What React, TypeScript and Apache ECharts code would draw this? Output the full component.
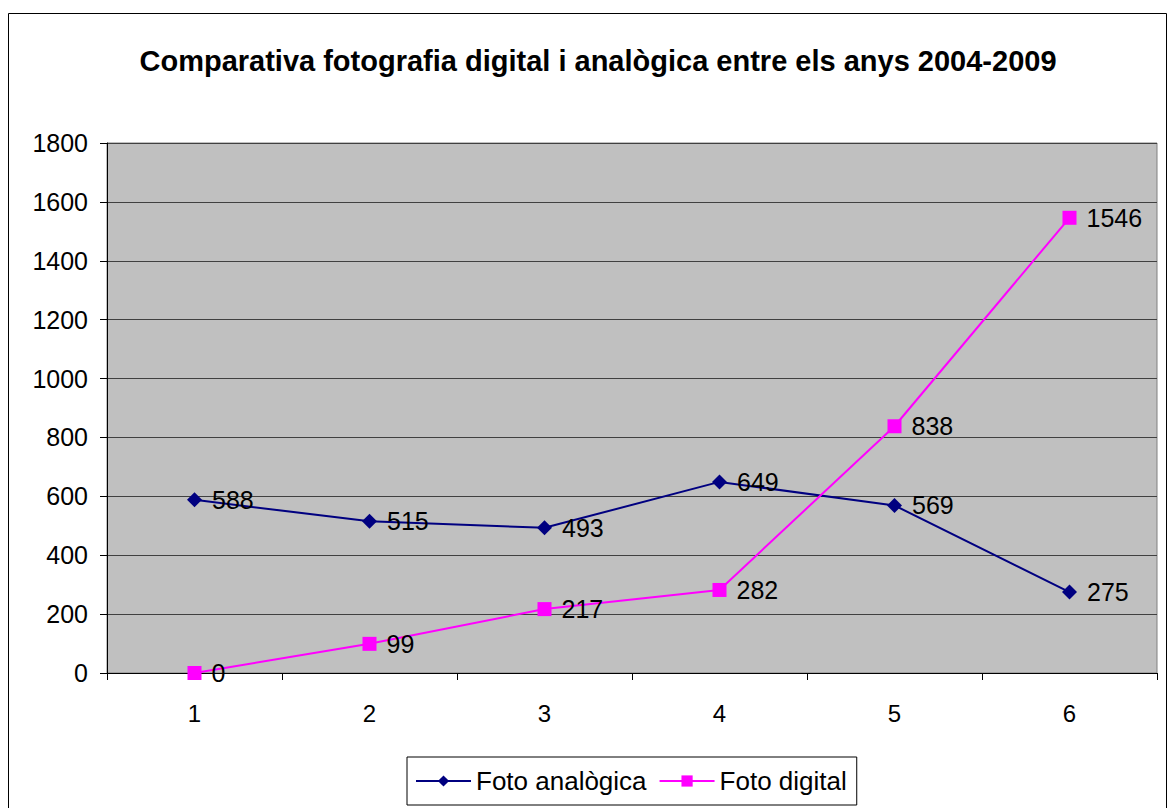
import React, { useEffect, useRef } from "react";
import * as echarts from "echarts";

const categories = ["1", "2", "3", "4", "5", "6"];
const analogica = [588, 515, 493, 649, 569, 275];
const digital = [0, 99, 217, 282, 838, 1546];
const seriesNames = ["Foto analògica", "Foto digital"];
const titleText = "Comparativa fotografia digital i analògica entre els anys 2004-2009";

export default function App() {
  const ref = useRef<HTMLDivElement>(null);
  useEffect(() => {
    if (!ref.current) return;
    const chart = echarts.init(ref.current, undefined, { renderer: "svg" });
    const font = "Arial, 'Liberation Sans', sans-serif";
    const labelStyle = {
      show: true,
      position: "right" as const,
      distance: 10,
      color: "#000",
      fontSize: 25,
      fontFamily: font,
    };
    chart.setOption({
      animation: false,
      backgroundColor: "#fff",
      title: {
        text: titleText,
        left: 593,
        textAlign: "center",
        top: 41,
        textStyle: { fontFamily: font, fontWeight: "bold", fontSize: 29, color: "#000" },
      },
      graphic: [
        {
          type: "rect",
          shape: { x: 8.5, y: 13.5, width: 1158, height: 800 },
          style: { fill: "none", stroke: "#000", lineWidth: 1 },
          silent: true,
          z: -10,
        },
      ],
      grid: {
        left: 107,
        top: 143,
        right: 11,
        bottom: 135,
        show: true,
        backgroundColor: "#c0c0c0",
        borderColor: "#808080",
        borderWidth: 1,
      },
      legend: {
        bottom: 3,
        left: 407,
        data: seriesNames,
        borderColor: "#000",
        borderWidth: 1,
        padding: [11, 10, 11, 8],
        itemGap: 12,
        itemWidth: 55,
        itemHeight: 14,
        textStyle: { fontFamily: font, fontSize: 26, color: "#000" },
      },
      xAxis: {
        type: "category",
        data: categories,
        boundaryGap: true,
        axisLine: { lineStyle: { color: "#000", width: 1 } },
        axisTick: { show: true, length: 7, lineStyle: { color: "#000" } },
        axisLabel: { color: "#000", fontSize: 24, fontFamily: font, margin: 28 },
        splitLine: { show: false },
      },
      yAxis: {
        type: "value",
        min: 0,
        max: 1800,
        interval: 200,
        axisLine: { show: true, lineStyle: { color: "#000", width: 1 } },
        axisTick: { show: true, length: 7, lineStyle: { color: "#000" } },
        axisLabel: {
          color: "#000",
          fontSize: 25,
          fontFamily: font,
          margin: 19,
          formatter: (v: number) => String(v),
        },
        splitLine: { show: true, lineStyle: { color: "#404040", width: 1 } },
      },
      series: [
        {
          name: seriesNames[0],
          type: "line",
          data: analogica,
          symbol: "diamond",
          symbolSize: 15,
          lineStyle: { color: "#000080", width: 2 },
          itemStyle: { color: "#000080" },
          label: labelStyle,
        },
        {
          name: seriesNames[1],
          type: "line",
          data: digital,
          symbol: "rect",
          symbolSize: 14,
          lineStyle: { color: "#ff00ff", width: 2 },
          itemStyle: { color: "#ff00ff" },
          label: labelStyle,
        },
      ],
    });
    return () => chart.dispose();
  }, []);
  return (
    <div
      ref={ref}
      style={{ position: "fixed", left: 0, top: 0, width: 1168, height: 808 }}
    />
  );
}
